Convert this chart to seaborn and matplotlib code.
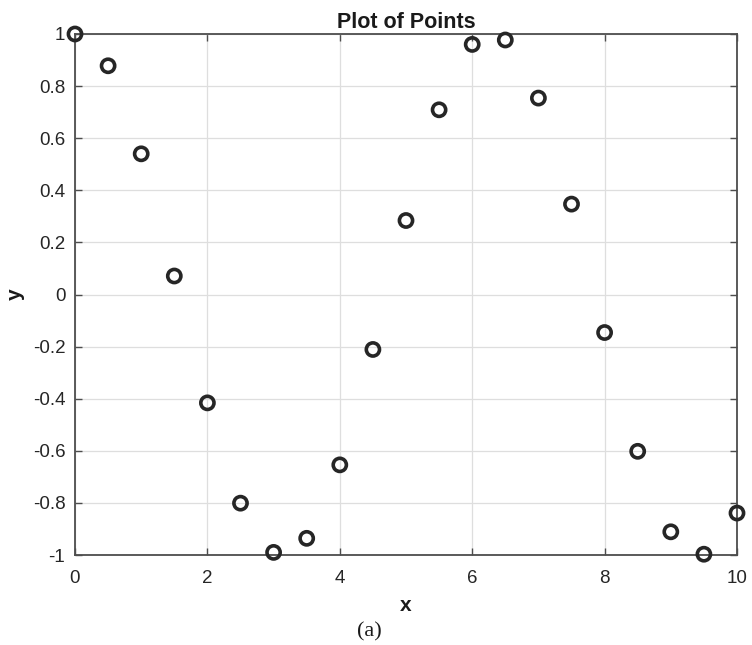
import matplotlib
matplotlib.use("Agg")
import matplotlib.pyplot as plt
import seaborn as sns
import pandas as pd

# Sampled points
x_vals = [0.0, 0.5, 1.0, 1.5, 2.0, 2.5, 3.0, 3.5, 4.0, 4.5, 5.0,
          5.5, 6.0, 6.5, 7.0, 7.5, 8.0, 8.5, 9.0, 9.5, 10.0]
y_vals = [1.0, 0.878, 0.540, 0.071, -0.416, -0.801, -0.990, -0.936, -0.654, -0.211, 0.284,
          0.709, 0.960, 0.977, 0.754, 0.347, -0.146, -0.602, -0.911, -0.997, -0.839]
x_ticks = [0, 2, 4, 6, 8, 10]
y_ticks = [-1, -0.8, -0.6, -0.4, -0.2, 0, 0.2, 0.4, 0.6, 0.8, 1]
y_tick_labels = ["-1", "-0.8", "-0.6", "-0.4", "-0.2", "0", "0.2", "0.4", "0.6", "0.8", "1"]

df = pd.DataFrame({"x": x_vals, "y": y_vals})

sns.set_theme(style="white")
plt.rcParams["font.family"] = ["Liberation Sans", "DejaVu Sans"]

fig = plt.figure(figsize=(7.52, 6.45), dpi=100)
ax = fig.add_axes([75 / 752, 1 - 555 / 645, (737 - 75) / 752, (555 - 34) / 645])

sns.scatterplot(data=df, x="x", y="y", ax=ax, marker="o", s=90,
                facecolor="none", edgecolor="#262626", linewidth=2.6,
                clip_on=False, zorder=5)

ax.set_xlim(0, 10)
ax.set_ylim(-1, 1)
ax.set_xticks(x_ticks)
ax.set_xticklabels([str(t) for t in x_ticks])
ax.set_yticks(y_ticks)
ax.set_yticklabels(y_tick_labels)
ax.grid(True, color="#dedede", linewidth=0.9)
ax.set_axisbelow(True)
for side in ["left", "right", "top", "bottom"]:
    ax.spines[side].set_visible(True)
    ax.spines[side].set_color("#4d4d4d")
    ax.spines[side].set_linewidth(1.3)
ax.tick_params(direction="in", length=5, width=1.0, colors="#4d4d4d",
               labelsize=13.5, labelcolor="#262626",
               top=True, right=True, bottom=True, left=True)
ax.tick_params(axis="x", pad=11)
ax.tick_params(axis="y", pad=7)

ax.set_title("Plot of Points", fontsize=15.5, fontweight="bold", color="#1a1a1a", pad=4)
ax.set_xlabel("x", fontsize=15, fontweight="bold", color="#1a1a1a", labelpad=6)
ax.set_ylabel("y", fontsize=15, fontweight="bold", color="#1a1a1a", labelpad=6)

fig.text(369 / 752, 1 - 632 / 645, "(a)", fontsize=16, family=["Liberation Serif"],
         ha="center", va="center", color="#1a1a1a")

fig.savefig("out.png", dpi=100)
